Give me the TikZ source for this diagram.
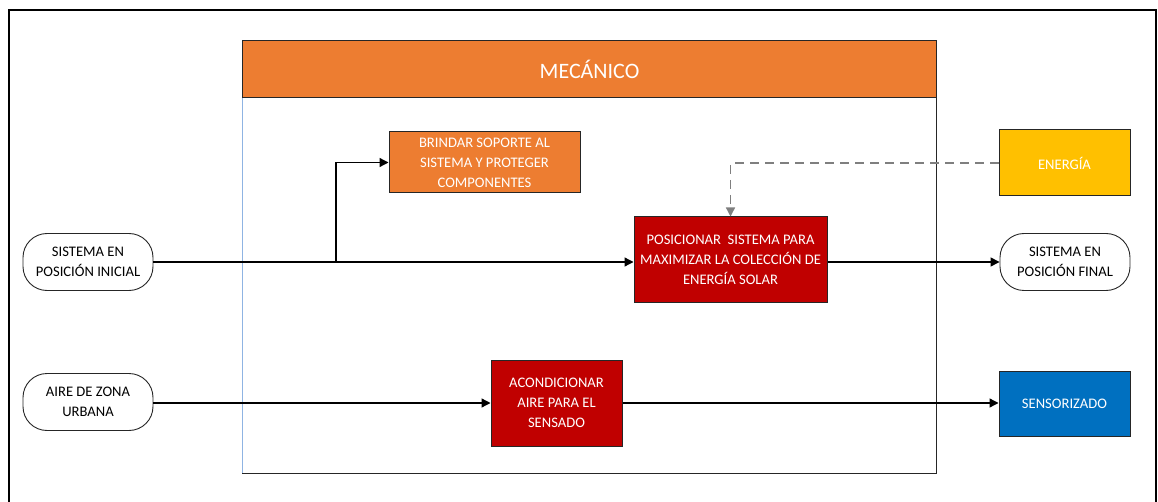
\documentclass[tikz,border=0pt]{standalone}
\usepackage{fontspec}
\setmainfont{Carlito}
\usetikzlibrary{arrows.meta}
\definecolor{morange}{HTML}{ED7D31}
\definecolor{mred}{HTML}{C00000}
\definecolor{myellow}{HTML}{FFC000}
\definecolor{mblue}{HTML}{0070C0}
\definecolor{mgray}{HTML}{7F7F7F}
\definecolor{mlblue}{HTML}{8FB4E3}
\begin{document}
\begin{tikzpicture}[x=1pt,y=-1pt,
  box/.style={draw=black!85,line width=1pt,minimum width=#1,align=center,text=white,font=\fontsize{14.6}{20}\selectfont,inner sep=0pt},
  term/.style={draw=black!85,line width=0.9pt,rounded corners=24pt,fill=white,minimum width=130pt,minimum height=57pt,align=center,font=\fontsize{14.6}{20}\selectfont,inner sep=0pt},
  flow/.style={line width=1.3pt,-{Triangle[length=9pt,width=9pt]}},
  aux/.style={line width=1.3pt,mgray,dash pattern=on 9pt off 6pt,-{Triangle[length=9pt,width=9pt]}}]
\useasboundingbox (0,0) rectangle (1158,502);
% outer frame
\draw[line width=1.6pt] (9,502) -- (9,10) -- (1156,10) -- (1156,502);
% container
\draw[line width=1pt,black!85] (242,473) -- (936,473) -- (936,40);
\draw[line width=0.8pt,mlblue] (242,40) -- (242,473);
\node[draw=black!85,line width=1pt,fill=morange,minimum width=694pt,minimum height=57pt,inner sep=0pt,anchor=north west,text=white,font=\fontsize{22}{26}\selectfont] (mec) at (242,40) {MECÁNICO};
% nodes
\node[term] (ini) at (88,262) {SISTEMA EN\\POSICIÓN INICIAL};
\node[term] (aire) at (88,402) {AIRE DE ZONA\\URBANA};
\node[box=191pt,minimum height=61pt,fill=morange] (brin) at (484.5,162.5) {BRINDAR SOPORTE AL\\SISTEMA Y PROTEGER\\COMPONENTES};
\node[box=193pt,minimum height=86pt,fill=mred] (pos) at (730.5,260) {POSICIONAR\ \ SISTEMA PARA\\MAXIMIZAR LA COLECCIÓN DE\\ENERGÍA SOLAR};
\node[box=131pt,minimum height=86pt,fill=mred] (acon) at (556.5,403) {ACONDICIONAR\\AIRE PARA EL\\SENSADO};
\node[box=131pt,minimum height=66pt,fill=myellow] (ener) at (1064.5,163) {ENERGÍA};
\node[term] (fin) at (1065,262) {SISTEMA EN\\POSICIÓN FINAL};
\node[box=131pt,minimum height=65pt,fill=mblue] (sens) at (1064.5,403.5) {SENSORIZADO};
% connectors
\coordinate (br) at (336,262);
\draw[flow] (ini.east |- 0,262) -- (pos.west |- 0,262);
\draw[flow] (br) |- (brin.west);
\draw[aux] (ener.west) -| (pos.north);
\draw[flow] (pos.east |- 0,262) -- (fin.west |- 0,262);
\draw[flow] (aire.east |- 0,403) -- (acon.west |- 0,403);
\draw[flow] (acon.east |- 0,403) -- (sens.west |- 0,403);
\end{tikzpicture}
\end{document}
